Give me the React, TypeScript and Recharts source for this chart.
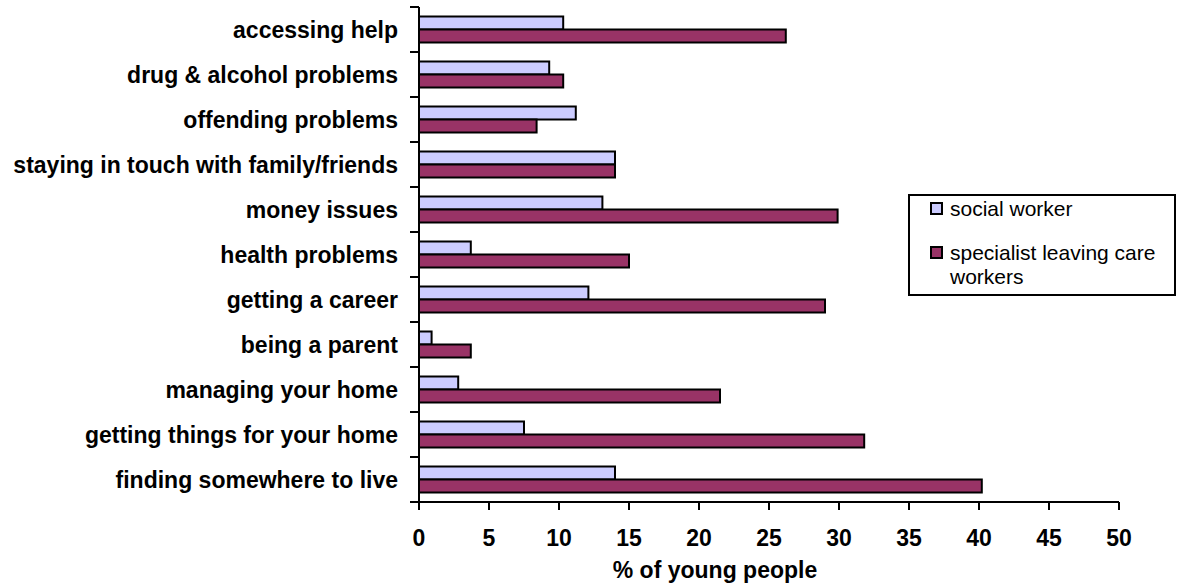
import React from 'react';
import { BarChart, Bar, XAxis, YAxis, Legend } from 'recharts';

const categories = [
  'accessing help',
  'drug & alcohol problems',
  'offending problems',
  'staying in touch with family/friends',
  'money issues',
  'health problems',
  'getting a career',
  'being a parent',
  'managing your home',
  'getting things for your home',
  'finding somewhere to live',
];
const socialWorker = [10.3, 9.3, 11.2, 14.0, 13.1, 3.7, 12.1, 0.9, 2.8, 7.5, 14.0];
const specialistWorkers = [26.2, 10.3, 8.4, 14.0, 29.9, 15.0, 29.0, 3.7, 21.5, 31.8, 40.2];
const xTicks = [0, 5, 10, 15, 20, 25, 30, 35, 40, 45, 50];

const data = categories.map((name, i) => ({
  name,
  social: socialWorker[i],
  specialist: specialistWorkers[i],
}));

const FONT = '"Liberation Sans", Arial, sans-serif';
const Y_TICK_SIZE = 9;
const Y_TICK_MARGIN = 12;

// category labels sit at the band centre, but the little tick marks go between bands (Excel style)
const CategoryTick = (props: any) => {
  const { x, y, payload, height, visibleTicksCount, index } = props;
  const band = height && visibleTicksCount ? height / visibleTicksCount : 45;
  const axisX = x + Y_TICK_SIZE + Y_TICK_MARGIN;
  return (
    <g>
      <line x1={axisX - Y_TICK_SIZE} x2={axisX} y1={y - band / 2} y2={y - band / 2} stroke="#000" strokeWidth={2} />
      {index === visibleTicksCount - 1 && (
        <line x1={axisX - Y_TICK_SIZE} x2={axisX} y1={y + band / 2} y2={y + band / 2} stroke="#000" strokeWidth={2} />
      )}
      <text x={x} y={y} dy="0.36em" textAnchor="end" fill="#000" fontFamily={FONT} fontSize={23} fontWeight="bold">
        {payload.value}
      </text>
    </g>
  );
};

const renderTitle = ({ viewBox }: any) => (
  <text
    x={viewBox.x + viewBox.width / 2 - 54}
    y={viewBox.y + 76}
    textAnchor="middle"
    fill="#000"
    fontFamily={FONT}
    fontSize={23}
    fontWeight="bold"
  >
    % of young people
  </text>
);

const LegendBox = ({ payload }: any) => (
  <div
    style={{
      width: 268,
      height: 102,
      boxSizing: 'border-box',
      border: '2px solid #000',
      background: '#fff',
      position: 'relative',
      fontFamily: FONT,
      fontSize: 21,
      color: '#000',
    }}
  >
    {(payload || []).map((p: any, i: number) => (
      <div
        key={p.value}
        style={{ position: 'absolute', left: 20, top: i === 0 ? 1 : 45, display: 'flex', alignItems: 'flex-start', lineHeight: '24px' }}
      >
        <span
          style={{
            width: 13,
            height: 13,
            boxSizing: 'border-box',
            border: '2px solid #000',
            background: p.color,
            marginTop: 5,
            marginRight: 7,
            flex: 'none',
          }}
        />
        <span style={{ width: 215, textAlign: 'left' }}>{p.value}</span>
      </div>
    ))}
  </div>
);

export default function App() {
  return (
    <div style={{ position: 'absolute', left: 0, top: 0, width: 1177, height: 588, background: '#fff' }}>
      <BarChart
        width={1177}
        height={588}
        data={data}
        layout="vertical"
        margin={{ top: 7, right: 58, left: 0, bottom: 0 }}
        barCategoryGap="21%"
        barGap={0}
      >
        <XAxis
          type="number"
          domain={[0, 50]}
          ticks={xTicks}
          interval={0}
          height={86}
          tickSize={8}
          tickMargin={20}
          axisLine={{ stroke: '#000', strokeWidth: 2 }}
          tickLine={{ stroke: '#000', strokeWidth: 2 }}
          tick={{ fill: '#000', fontSize: 23, fontWeight: 'bold', fontFamily: FONT }}
          label={renderTitle}
        />
        <YAxis
          type="category"
          dataKey="name"
          width={419}
          interval={0}
          tickSize={Y_TICK_SIZE}
          tickMargin={Y_TICK_MARGIN}
          tickLine={false}
          axisLine={{ stroke: '#000', strokeWidth: 2 }}
          tick={<CategoryTick />}
        />
        <Legend
          layout="horizontal"
          verticalAlign="middle"
          align="center"
          content={<LegendBox />}
          wrapperStyle={{ left: 908, top: 194, width: 268, height: 102 }}
        />
        <Bar dataKey="social" name="social worker" fill="#CCCCFF" stroke="#000" strokeWidth={2} isAnimationActive={false} />
        <Bar dataKey="specialist" name="specialist leaving care workers" fill="#993366" stroke="#000" strokeWidth={2} isAnimationActive={false} />
      </BarChart>
    </div>
  );
}
